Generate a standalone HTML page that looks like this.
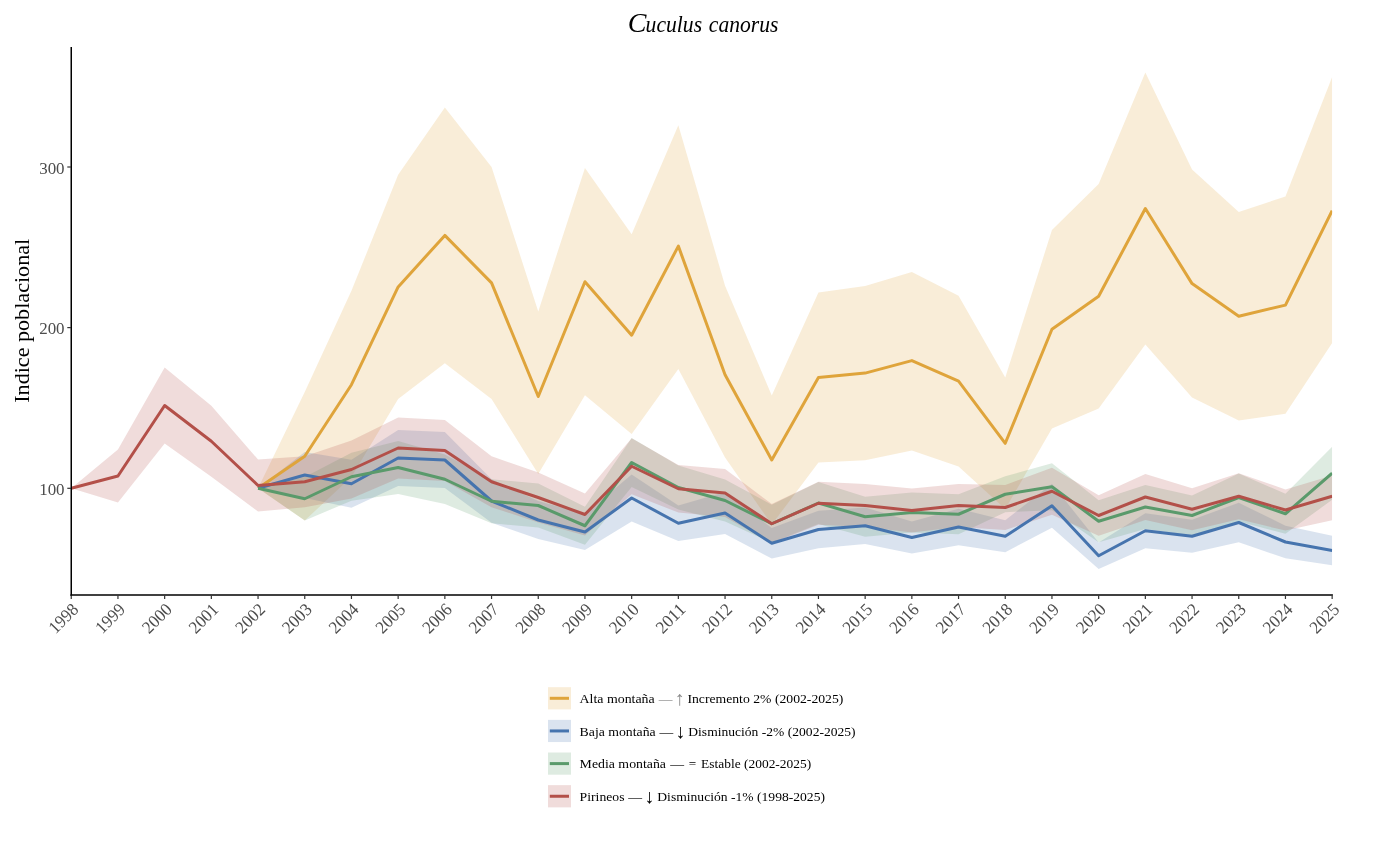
<!DOCTYPE html>
<html lang="es">
<head>
<meta charset="utf-8">
<title>Cuculus canorus</title>
<style>
html,body{margin:0;padding:0;background:#fff;}
body{width:1375px;height:859px;overflow:hidden;}
svg{display:block;}
text{font-family:"Liberation Serif",serif;}
.tick{font-size:17.6px;fill:#4d4d4d;}
.leg{font-size:13.2px;fill:#000;}
.title{font-size:23px;font-style:italic;fill:#000;}
.ylab{font-size:22px;fill:#000;}
</style>
</head>
<body>
<svg width="1375" height="859" viewBox="0 0 1375 859">
<rect x="0" y="0" width="1375" height="859" fill="#ffffff"/>
<text y="32" class="title"><tspan x="627.8" style="font-size:28px">C</tspan><tspan x="645.6" textLength="56.5" lengthAdjust="spacingAndGlyphs">uculus</tspan> <tspan x="708.8" textLength="69.6" lengthAdjust="spacingAndGlyphs">canorus</tspan></text>
<text transform="translate(28.7,320.8) rotate(-90)" text-anchor="middle" class="ylab" textLength="164" lengthAdjust="spacingAndGlyphs">Indice poblacional</text>
<defs><clipPath id="panel"><rect x="71.25" y="40" width="1260.9" height="555"/></clipPath></defs>
<g clip-path="url(#panel)">
<polygon points="258.05,488.25 304.75,392 351.45,290.8 398.15,174.8 444.85,107.5 491.55,166.9 538.25,311.4 584.95,168.1 631.65,234.2 678.35,125.3 725.05,285.7 771.75,395.4 818.45,292.6 865.15,285.9 911.85,272 958.55,295.7 1005.25,377.6 1051.95,230 1098.65,183.9 1145.35,72.5 1192.05,169.6 1238.75,212.1 1285.45,196.4 1332.15,77 1332.15,343 1285.45,413.8 1238.75,420.5 1192.05,397.6 1145.35,344.5 1098.65,408.5 1051.95,428.6 1005.25,509 958.55,466.5 911.85,450.5 865.15,460.3 818.45,462.6 771.75,524.6 725.05,457.5 678.35,369 631.65,434 584.95,395.3 538.25,474 491.55,398.9 444.85,363.3 398.15,399 351.45,477 304.75,520.5 258.05,488.25" fill="#DFA43B" fill-opacity="0.2" stroke="none"/>
<polygon points="258.05,488.25 304.75,452 351.45,459.75 398.15,430 444.85,432 491.55,479.3 538.25,501 584.95,514 631.65,474.5 678.35,505.5 725.05,492 771.75,528 818.45,510.75 865.15,507.5 911.85,521.5 958.55,508.75 1005.25,520.25 1051.95,483.75 1098.65,542.5 1145.35,513.25 1192.05,519.75 1238.75,502.8 1285.45,525.7 1332.15,535.7 1332.15,565.3 1285.45,558.3 1238.75,542.2 1192.05,552.75 1145.35,548.25 1098.65,569 1051.95,527.75 1005.25,552.25 958.55,545.25 911.85,553.5 865.15,544 818.45,548.25 771.75,558.5 725.05,534 678.35,541 631.65,521.5 584.95,550 538.25,539 491.55,522.7 444.85,488 398.15,486 351.45,507.75 304.75,498 258.05,488.25" fill="#4674AE" fill-opacity="0.2" stroke="none"/>
<polygon points="258.05,488.25 304.75,477.05 351.45,452.75 398.15,441 444.85,454.5 491.55,479.25 538.25,483.5 584.95,506.75 631.65,438 678.35,465.5 725.05,479.5 771.75,504.75 818.45,482 865.15,496.75 911.85,492.5 958.55,494.25 1005.25,476.35 1051.95,463.35 1098.65,500.25 1145.35,485 1192.05,495.5 1238.75,473.5 1285.45,493.75 1332.15,446.8 1332.15,499.75 1285.45,533.75 1238.75,521.5 1192.05,535.5 1145.35,529 1098.65,542.25 1051.95,510.15 1005.25,512.15 958.55,534.25 911.85,532.5 865.15,536.75 818.45,524 771.75,542.75 725.05,521.5 678.35,509.5 631.65,487 584.95,544.75 538.25,527.5 491.55,523.25 444.85,504 398.15,494 351.45,500.75 304.75,520.45 258.05,488.25" fill="#5A9A6B" fill-opacity="0.2" stroke="none"/>
<polygon points="71.25,488.25 117.95,449.5 164.65,367.6 211.35,405.75 258.05,459.5 304.75,456.25 351.45,440.5 398.15,417.6 444.85,420.1 491.55,456.25 538.25,472.5 584.95,493.5 631.65,438.25 678.35,465 725.05,469 771.75,504 818.45,481.85 865.15,483.9 911.85,488.5 958.55,483.9 1005.25,485 1051.95,467.65 1098.65,495.2 1145.35,474 1192.05,488.25 1238.75,473.15 1285.45,489.4 1332.15,475.4 1332.15,520.3 1285.45,530.6 1238.75,519.35 1192.05,530.25 1145.35,520 1098.65,535.8 1051.95,514.85 1005.25,530 958.55,527.1 911.85,532.5 865.15,527.1 818.45,524.65 771.75,543.5 725.05,517 678.35,512.5 631.65,494.25 584.95,535.5 538.25,522.5 491.55,507.25 444.85,480.9 398.15,478.4 351.45,498.5 304.75,507.25 258.05,511.5 211.35,476.75 164.65,443.4 117.95,502.5 71.25,488.25" fill="#B35049" fill-opacity="0.2" stroke="none"/>
<polyline points="258.05,488.25 304.75,456.25 351.45,384.7 398.15,286.9 444.85,235.4 491.55,282.9 538.25,396.5 584.95,281.7 631.65,335.2 678.35,246.1 725.05,374.8 771.75,460 818.45,377.6 865.15,373.1 911.85,360.6 958.55,381.1 1005.25,443.3 1051.95,329.3 1098.65,296.2 1145.35,208.5 1192.05,283.6 1238.75,316.3 1285.45,305.1 1332.15,210.7" fill="none" stroke="#DFA43B" stroke-width="3.0" stroke-linejoin="round" stroke-linecap="butt"/>
<polyline points="258.05,488.25 304.75,475 351.45,483.75 398.15,458 444.85,460 491.55,501 538.25,520 584.95,532 631.65,498 678.35,523.25 725.05,513 771.75,543.25 818.45,529.5 865.15,525.75 911.85,537.5 958.55,527 1005.25,536.25 1051.95,505.75 1098.65,555.75 1145.35,530.75 1192.05,536.25 1238.75,522.5 1285.45,542 1332.15,550.5" fill="none" stroke="#4674AE" stroke-width="3.0" stroke-linejoin="round" stroke-linecap="butt"/>
<polyline points="258.05,488.25 304.75,498.75 351.45,476.75 398.15,467.5 444.85,479.25 491.55,501.25 538.25,505.5 584.95,525.75 631.65,462.5 678.35,487.5 725.05,500.5 771.75,523.75 818.45,503 865.15,516.75 911.85,512.5 958.55,514.25 1005.25,494.25 1051.95,486.75 1098.65,521.25 1145.35,507 1192.05,515.5 1238.75,497.5 1285.45,513.75 1332.15,473.25" fill="none" stroke="#5A9A6B" stroke-width="3.0" stroke-linejoin="round" stroke-linecap="butt"/>
<polyline points="71.25,488.25 117.95,476 164.65,405.5 211.35,441.25 258.05,485.5 304.75,481.75 351.45,469.5 398.15,448 444.85,450.5 491.55,481.75 538.25,497.5 584.95,514.5 631.65,466.25 678.35,488.75 725.05,493 771.75,523.75 818.45,503.25 865.15,505.5 911.85,510.5 958.55,505.5 1005.25,507.5 1051.95,491.25 1098.65,515.5 1145.35,497 1192.05,509.25 1238.75,496.25 1285.45,510 1332.15,496.25" fill="none" stroke="#B35049" stroke-width="3.0" stroke-linejoin="round" stroke-linecap="butt"/>
</g>
<g>
<line x1="71.25" y1="47" x2="71.25" y2="595.9" stroke="#000" stroke-width="1.5"/>
<line x1="70.45" y1="595.1" x2="1332.9" y2="595.1" stroke="#000" stroke-width="1.5"/>
<line x1="67.3" y1="488.3" x2="71" y2="488.3" stroke="#333" stroke-width="1.2"/>
<text x="64.6" y="494.9" text-anchor="end" class="tick" textLength="25.4" lengthAdjust="spacingAndGlyphs">100</text>
<line x1="67.3" y1="327.6" x2="71" y2="327.6" stroke="#333" stroke-width="1.2"/>
<text x="64.6" y="334.2" text-anchor="end" class="tick" textLength="25.4" lengthAdjust="spacingAndGlyphs">200</text>
<line x1="67.3" y1="167.0" x2="71" y2="167.0" stroke="#333" stroke-width="1.2"/>
<text x="64.6" y="173.6" text-anchor="end" class="tick" textLength="25.4" lengthAdjust="spacingAndGlyphs">300</text>
<line x1="71.25" y1="595.5" x2="71.25" y2="599" stroke="#333" stroke-width="1.2"/>
<text transform="translate(79.45,610.5) rotate(-45)" text-anchor="end" class="tick" textLength="33.8" lengthAdjust="spacingAndGlyphs">1998</text>
<line x1="117.95" y1="595.5" x2="117.95" y2="599" stroke="#333" stroke-width="1.2"/>
<text transform="translate(126.15,610.5) rotate(-45)" text-anchor="end" class="tick" textLength="33.8" lengthAdjust="spacingAndGlyphs">1999</text>
<line x1="164.65" y1="595.5" x2="164.65" y2="599" stroke="#333" stroke-width="1.2"/>
<text transform="translate(172.85,610.5) rotate(-45)" text-anchor="end" class="tick" textLength="33.8" lengthAdjust="spacingAndGlyphs">2000</text>
<line x1="211.35" y1="595.5" x2="211.35" y2="599" stroke="#333" stroke-width="1.2"/>
<text transform="translate(219.55,610.5) rotate(-45)" text-anchor="end" class="tick" textLength="33.8" lengthAdjust="spacingAndGlyphs">2001</text>
<line x1="258.05" y1="595.5" x2="258.05" y2="599" stroke="#333" stroke-width="1.2"/>
<text transform="translate(266.25,610.5) rotate(-45)" text-anchor="end" class="tick" textLength="33.8" lengthAdjust="spacingAndGlyphs">2002</text>
<line x1="304.75" y1="595.5" x2="304.75" y2="599" stroke="#333" stroke-width="1.2"/>
<text transform="translate(312.95,610.5) rotate(-45)" text-anchor="end" class="tick" textLength="33.8" lengthAdjust="spacingAndGlyphs">2003</text>
<line x1="351.45" y1="595.5" x2="351.45" y2="599" stroke="#333" stroke-width="1.2"/>
<text transform="translate(359.65,610.5) rotate(-45)" text-anchor="end" class="tick" textLength="33.8" lengthAdjust="spacingAndGlyphs">2004</text>
<line x1="398.15" y1="595.5" x2="398.15" y2="599" stroke="#333" stroke-width="1.2"/>
<text transform="translate(406.35,610.5) rotate(-45)" text-anchor="end" class="tick" textLength="33.8" lengthAdjust="spacingAndGlyphs">2005</text>
<line x1="444.85" y1="595.5" x2="444.85" y2="599" stroke="#333" stroke-width="1.2"/>
<text transform="translate(453.05,610.5) rotate(-45)" text-anchor="end" class="tick" textLength="33.8" lengthAdjust="spacingAndGlyphs">2006</text>
<line x1="491.55" y1="595.5" x2="491.55" y2="599" stroke="#333" stroke-width="1.2"/>
<text transform="translate(499.75,610.5) rotate(-45)" text-anchor="end" class="tick" textLength="33.8" lengthAdjust="spacingAndGlyphs">2007</text>
<line x1="538.25" y1="595.5" x2="538.25" y2="599" stroke="#333" stroke-width="1.2"/>
<text transform="translate(546.45,610.5) rotate(-45)" text-anchor="end" class="tick" textLength="33.8" lengthAdjust="spacingAndGlyphs">2008</text>
<line x1="584.95" y1="595.5" x2="584.95" y2="599" stroke="#333" stroke-width="1.2"/>
<text transform="translate(593.15,610.5) rotate(-45)" text-anchor="end" class="tick" textLength="33.8" lengthAdjust="spacingAndGlyphs">2009</text>
<line x1="631.65" y1="595.5" x2="631.65" y2="599" stroke="#333" stroke-width="1.2"/>
<text transform="translate(639.85,610.5) rotate(-45)" text-anchor="end" class="tick" textLength="33.8" lengthAdjust="spacingAndGlyphs">2010</text>
<line x1="678.35" y1="595.5" x2="678.35" y2="599" stroke="#333" stroke-width="1.2"/>
<text transform="translate(686.55,610.5) rotate(-45)" text-anchor="end" class="tick" textLength="33.8" lengthAdjust="spacingAndGlyphs">2011</text>
<line x1="725.05" y1="595.5" x2="725.05" y2="599" stroke="#333" stroke-width="1.2"/>
<text transform="translate(733.25,610.5) rotate(-45)" text-anchor="end" class="tick" textLength="33.8" lengthAdjust="spacingAndGlyphs">2012</text>
<line x1="771.75" y1="595.5" x2="771.75" y2="599" stroke="#333" stroke-width="1.2"/>
<text transform="translate(779.95,610.5) rotate(-45)" text-anchor="end" class="tick" textLength="33.8" lengthAdjust="spacingAndGlyphs">2013</text>
<line x1="818.45" y1="595.5" x2="818.45" y2="599" stroke="#333" stroke-width="1.2"/>
<text transform="translate(826.65,610.5) rotate(-45)" text-anchor="end" class="tick" textLength="33.8" lengthAdjust="spacingAndGlyphs">2014</text>
<line x1="865.15" y1="595.5" x2="865.15" y2="599" stroke="#333" stroke-width="1.2"/>
<text transform="translate(873.35,610.5) rotate(-45)" text-anchor="end" class="tick" textLength="33.8" lengthAdjust="spacingAndGlyphs">2015</text>
<line x1="911.85" y1="595.5" x2="911.85" y2="599" stroke="#333" stroke-width="1.2"/>
<text transform="translate(920.05,610.5) rotate(-45)" text-anchor="end" class="tick" textLength="33.8" lengthAdjust="spacingAndGlyphs">2016</text>
<line x1="958.55" y1="595.5" x2="958.55" y2="599" stroke="#333" stroke-width="1.2"/>
<text transform="translate(966.75,610.5) rotate(-45)" text-anchor="end" class="tick" textLength="33.8" lengthAdjust="spacingAndGlyphs">2017</text>
<line x1="1005.25" y1="595.5" x2="1005.25" y2="599" stroke="#333" stroke-width="1.2"/>
<text transform="translate(1013.45,610.5) rotate(-45)" text-anchor="end" class="tick" textLength="33.8" lengthAdjust="spacingAndGlyphs">2018</text>
<line x1="1051.95" y1="595.5" x2="1051.95" y2="599" stroke="#333" stroke-width="1.2"/>
<text transform="translate(1060.15,610.5) rotate(-45)" text-anchor="end" class="tick" textLength="33.8" lengthAdjust="spacingAndGlyphs">2019</text>
<line x1="1098.65" y1="595.5" x2="1098.65" y2="599" stroke="#333" stroke-width="1.2"/>
<text transform="translate(1106.85,610.5) rotate(-45)" text-anchor="end" class="tick" textLength="33.8" lengthAdjust="spacingAndGlyphs">2020</text>
<line x1="1145.35" y1="595.5" x2="1145.35" y2="599" stroke="#333" stroke-width="1.2"/>
<text transform="translate(1153.55,610.5) rotate(-45)" text-anchor="end" class="tick" textLength="33.8" lengthAdjust="spacingAndGlyphs">2021</text>
<line x1="1192.05" y1="595.5" x2="1192.05" y2="599" stroke="#333" stroke-width="1.2"/>
<text transform="translate(1200.25,610.5) rotate(-45)" text-anchor="end" class="tick" textLength="33.8" lengthAdjust="spacingAndGlyphs">2022</text>
<line x1="1238.75" y1="595.5" x2="1238.75" y2="599" stroke="#333" stroke-width="1.2"/>
<text transform="translate(1246.95,610.5) rotate(-45)" text-anchor="end" class="tick" textLength="33.8" lengthAdjust="spacingAndGlyphs">2023</text>
<line x1="1285.45" y1="595.5" x2="1285.45" y2="599" stroke="#333" stroke-width="1.2"/>
<text transform="translate(1293.65,610.5) rotate(-45)" text-anchor="end" class="tick" textLength="33.8" lengthAdjust="spacingAndGlyphs">2024</text>
<line x1="1332.15" y1="595.5" x2="1332.15" y2="599" stroke="#333" stroke-width="1.2"/>
<text transform="translate(1340.35,610.5) rotate(-45)" text-anchor="end" class="tick" textLength="33.8" lengthAdjust="spacingAndGlyphs">2025</text>
</g>
<g>
<rect x="548" y="687.2" width="23" height="22.2" fill="#DFA43B" fill-opacity="0.2"/>
<line x1="549.8" y1="698.3" x2="569" y2="698.3" stroke="#DFA43B" stroke-width="3.0"/>
<text x="579.6" y="703.1" class="leg" textLength="75.1" lengthAdjust="spacingAndGlyphs">Alta montaña</text>
<text x="658.8" y="703.1" class="leg" fill="#8a8a8a" style="fill:#8a8a8a" textLength="13.7" lengthAdjust="spacingAndGlyphs">—</text>
<text x="679.6" y="704.9" class="leg" style="font-size:20px;fill:#8a8a8a" text-anchor="middle">↑</text>
<text x="687.4" y="703.1" class="leg" textLength="156" lengthAdjust="spacingAndGlyphs">Incremento 2% (2002-2025)</text>
<rect x="548" y="719.85" width="23" height="22.2" fill="#4674AE" fill-opacity="0.2"/>
<line x1="549.8" y1="730.95" x2="569" y2="730.95" stroke="#4674AE" stroke-width="3.0"/>
<text x="579.6" y="735.75" class="leg" textLength="76.1" lengthAdjust="spacingAndGlyphs">Baja montaña</text>
<text x="659.4" y="735.75" class="leg" fill="#000" style="fill:#000" textLength="13.7" lengthAdjust="spacingAndGlyphs">—</text>
<text x="680.2" y="737.55" class="leg" style="font-size:20px;fill:#000" text-anchor="middle">↓</text>
<text x="688.3" y="735.75" class="leg" textLength="167.3" lengthAdjust="spacingAndGlyphs">Disminución -2% (2002-2025)</text>
<rect x="548" y="752.5" width="23" height="22.2" fill="#5A9A6B" fill-opacity="0.2"/>
<line x1="549.8" y1="763.6" x2="569" y2="763.6" stroke="#5A9A6B" stroke-width="3.0"/>
<text x="579.6" y="768.4" class="leg" textLength="86.4" lengthAdjust="spacingAndGlyphs">Media montaña</text>
<text x="670.2" y="768.4" class="leg" fill="#000" style="fill:#000" textLength="13.8" lengthAdjust="spacingAndGlyphs">—</text>
<text x="692.4" y="768.4" class="leg" text-anchor="middle">=</text>
<text x="701.1" y="768.4" class="leg" textLength="110.1" lengthAdjust="spacingAndGlyphs">Estable (2002-2025)</text>
<rect x="548" y="785.15" width="23" height="22.2" fill="#B35049" fill-opacity="0.2"/>
<line x1="549.8" y1="796.25" x2="569" y2="796.25" stroke="#B35049" stroke-width="3.0"/>
<text x="579.6" y="801.05" class="leg" textLength="44.9" lengthAdjust="spacingAndGlyphs">Pirineos</text>
<text x="628.3" y="801.05" class="leg" fill="#000" style="fill:#000" textLength="13.8" lengthAdjust="spacingAndGlyphs">—</text>
<text x="649.3" y="802.85" class="leg" style="font-size:20px;fill:#000" text-anchor="middle">↓</text>
<text x="657.3" y="801.05" class="leg" textLength="167.7" lengthAdjust="spacingAndGlyphs">Disminución -1% (1998-2025)</text>
</g>
</svg>
</body>
</html>
